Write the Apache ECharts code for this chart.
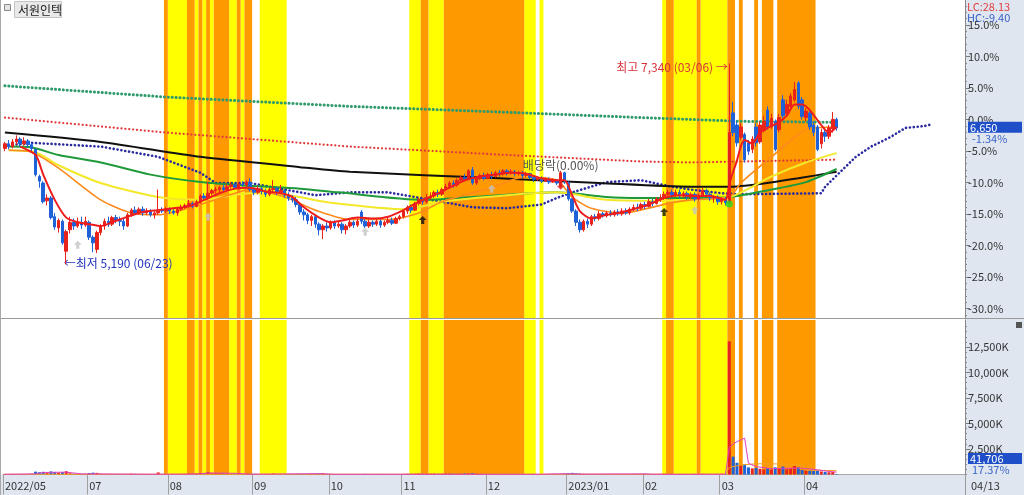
<!DOCTYPE html>
<html><head><meta charset="utf-8">
<script src="https://cdn.jsdelivr.net/npm/echarts@6/dist/echarts.min.js"></script>
<style>html,body{margin:0;padding:0;background:#fff}#c{width:1024px;height:495px}</style>
</head><body><div id="c"></div>
<script>
const stockName = '서원인텍';
const prevClose = 6740;
const lastClose = 6650;
const lastChangeText = '-1.34%';
const lastVolumeText = '41,706';
const lastVolumeRatioText = '17.37%';
const lowLabel = '←최저 5,190 (06/23)';
const highLabel = '최고 7,340 (03/06) →';
const dividendLabel = '배당락(0.00%)';
const lcText = 'LC:28.13';
const hcText = 'HC:-9.40';
const lastDateText = '04/13';
const firstDay = '2022-05-30';
const lastDay = '2023-04-13';
const marketHolidays = ['2022-06-01','2022-06-06','2022-08-15','2022-09-09','2022-09-12','2022-10-03','2022-10-10','2022-12-30','2023-01-23','2023-01-24','2023-03-01'];
const futureSlots = 33;

// [open, close, low, high] per trading day
const candles = [
 [6430,6480,6400,6500],[6480,6450,6420,6520],[6450,6500,6430,6530],[6500,6530,6470,6570],[6530,6480,6450,6550],
 [6480,6510,6460,6550],[6510,6470,6440,6530],[6470,6430,6400,6490],[6420,6150,6130,6430],[6130,6080,6010,6150],
 [6060,5860,5840,6080],[5870,5900,5820,5940],[5900,5690,5670,5920],[5700,5590,5560,5740],[5580,5660,5530,5680],
 [5650,5420,5400,5670],[5330,5540,5190,5560],[5560,5640,5520,5700],[5640,5600,5560,5680],[5600,5640,5580,5690],
 [5640,5610,5570,5700],[5610,5650,5590,5700],[5640,5480,5450,5660],[5480,5420,5320,5500],[5350,5530,5310,5550],
 [5530,5600,5500,5620],[5600,5650,5560,5680],[5650,5620,5590,5700],[5620,5690,5600,5710],[5690,5660,5630,5720],
 [5660,5650,5600,5700],[5650,5600,5560,5680],[5600,5720,5590,5740],[5720,5770,5700,5790],[5770,5740,5720,5810],
 [5740,5780,5720,5800],[5780,5740,5710,5810],[5740,5760,5720,5790],[5760,5720,5700,5780],[5720,5740,5680,5760],
 [5740,5770,5720,5990],[5770,5760,5740,5800],[5760,5780,5740,5800],[5780,5760,5730,5800],[5760,5740,5720,5780],
 [5740,5780,5710,5800],[5780,5800,5760,5830],[5800,5820,5780,5840],[5820,5840,5800,5880],[5840,5810,5790,5860],
 [5810,5860,5800,5880],[5860,5920,5840,5940],[5920,5900,5870,5950],[5900,5950,5880,6070],[5950,5980,5930,6000],
 [5980,5990,5950,6020],[5990,6010,5960,6030],[6010,5990,5970,6040],[5990,6020,5970,6050],[6020,6040,6000,6070],
 [6040,6010,5990,6060],[6010,6050,5990,6070],[6050,6040,6010,6080],[6040,6070,6020,6090],[6070,5990,5970,6110],
 [5990,5960,5930,6010],[5960,6000,5940,6030],[6000,5970,5940,6020],[5970,5940,5910,6000],[5940,5990,5920,6010],
 [5990,6000,5960,6090],[6000,5960,5930,6020],[5960,5980,5940,6040],[5980,5930,5900,6000],[5930,5900,5870,5960],
 [5900,5880,5850,5930],[5880,5830,5800,5910],[5830,5750,5720,5850],[5750,5720,5660,5780],[5720,5660,5620,5740],
 [5660,5700,5600,5720],[5700,5620,5580,5720],[5620,5560,5500,5640],[5560,5600,5460,5620],[5600,5580,5540,5640],
 [5580,5640,5560,5660],[5640,5600,5570,5660],[5600,5620,5580,5650],[5620,5560,5520,5640],[5560,5600,5510,5620],
 [5600,5640,5580,5670],[5640,5610,5580,5660],[5610,5650,5590,5680],[5750,5650,5620,5770],[5650,5600,5580,5680],
 [5600,5640,5580,5670],[5640,5620,5590,5660],[5620,5650,5600,5680],[5650,5610,5580,5670],[5610,5640,5590,5660],
 [5640,5660,5620,5690],[5660,5630,5610,5690],[5630,5680,5620,5700],[5680,5700,5660,5720],[5700,5760,5680,5770],
 [5760,5800,5730,5820],[5800,5770,5740,5830],[5770,5840,5760,5860],[5840,5880,5820,5900],[5880,5860,5830,5900],
 [5860,5900,5840,5940],[5900,5920,5880,5960],[5920,5960,5900,5980],[5960,5940,5910,5990],[5940,5990,5920,6010],
 [6000,6020,5980,6050],[6020,6060,6000,6080],[6060,6040,6010,6090],[6040,6090,6020,6110],[6090,6120,6070,6140],
 [6120,6100,6080,6160],[6100,6190,6090,6210],[6200,6060,6040,6230],[6060,6110,6040,6130],[6110,6140,6090,6160],
 [6140,6110,6090,6170],[6110,6150,6100,6170],[6150,6130,6100,6180],[6130,6170,6120,6190],[6170,6160,6130,6200],
 [6160,6190,6140,6210],[6190,6170,6140,6210],[6170,6180,6150,6210],[6180,6160,6130,6200],[6160,6170,6140,6190],
 [6170,6140,6110,6190],[6140,6160,6120,6180],[6160,6120,6100,6170],[6120,6100,6070,6140],[6100,6110,6080,6130],
 [6110,6080,6060,6130],[6080,6100,6070,6120],[6100,6070,6050,6120],[6070,6090,6060,6110],[6090,6060,6040,6100],
 [6020,6170,6000,6190],[6170,6080,6050,6180],[6060,5890,5870,6080],[5890,5760,5740,5900],[5760,5640,5600,5780],
 [5640,5560,5530,5670],[5560,5650,5540,5670],[5650,5620,5580,5680],[5620,5700,5600,5720],[5700,5680,5650,5730],
 [5680,5730,5660,5760],[5730,5710,5690,5750],[5710,5740,5690,5760],[5740,5720,5700,5770],[5720,5750,5700,5770],
 [5750,5730,5710,5780],[5730,5760,5710,5790],[5760,5740,5720,5790],[5740,5780,5720,5800],[5780,5800,5760,5830],
 [5800,5790,5760,5840],[5790,5830,5770,5850],[5830,5810,5780,5860],[5810,5860,5800,5890],[5860,5840,5810,5890],
 [5840,5890,5830,5910],[5890,5900,5860,5940],[5900,5940,5880,5970],[5940,5960,5910,5990],[5960,5930,5900,5990],
 [5930,5960,5910,5990],[5960,5920,5890,5990],[5920,5950,5900,5970],[5950,5910,5880,5970],[5910,5940,5890,5960],
 [5940,5890,5860,5960],[5890,5930,5870,5950],[5930,5980,5920,6010],[5980,5940,5910,6000],[5940,5900,5870,5960],
 [5900,5910,5850,5930],[5910,5860,5830,5930],[5860,5890,5830,5910],[5890,5850,5820,5910],[5850,6600,5840,7340],
 [6810,6600,6560,6930],[6680,6490,6450,6720],[6550,6660,6520,6700],[6580,6310,6280,6600],[6490,6400,6360,6520],
 [6420,6530,6380,6560],[6660,6490,6450,6700],[6500,6680,6480,6720],[6620,6720,6600,6780],[6840,6660,6630,6880],
 [6660,6750,6640,6800],[6720,6420,6400,6740],[6630,6760,6600,6800],[6950,6780,6750,7000],[6800,6900,6780,6950],
 [6880,6990,6860,7020],[6950,7060,6930,7140],[7130,6880,6850,7150],[6950,6770,6740,6980],[6760,6830,6720,6860],
 [6810,6660,6630,6850],[6680,6600,6560,6720],[6660,6420,6400,6680],[6480,6600,6430,6640],[6600,6560,6500,6650],
 [6560,6650,6530,6680],[6640,6740,6600,6820],[6740,6650,6620,6760]
];

// volume in thousands of shares
const volumeK = [
 60,45,55,50,40,45,50,70,
 280,220,260,150,300,250,180,230,320,
 120,80,70,60,60,
 150,180,160,
 70,60,50,55,50,45,40,60,80,60,50,45,40,40,50,
 200,
 60,55,50,45,50,60,70,90,80,
 110,150,130,220,160,140,120,110,100,90,80,
 70,60,80,70,60,50,45,50,45,90,50,45,50,45,40,50,70,60,55,80,
 90,110,130,70,60,50,45,40,50,45,
 40,45,40,60,45,40,35,40,45,40,50,45,40,
 60,80,70,90,110,80,70,90,100,80,90,110,100,90,80,90,110,130,
 150,90,70,60,60,55,50,50,45,50,40,45,40,40,45,50,60,45,40,40,45,50,45,40,90,
 140,160,120,100,
 60,50,45,40,40,45,40,40,35,40,45,40,45,50,55,60,70,55,50,60,
 70,80,60,55,50,55,50,45,50,60,50,70,60,50,55,60,70,60,
 13050,1750,1150,900,1000,700,600,650,560,500,620,480,700,550,780,520,600,830,700,450,400,420,350,380,300,260,220,240,41.7
];

// moving-average lines: [day index, price]
const maRed = [[4,6450],[8,6360],[10,6150],[13,5880],[16,5690],[19,5640],[22,5620],[25,5600],[28,5640],[32,5700],[36,5750],[40,5770],[44,5790],[48,5810],[52,5880],[56,5950],[60,6000],[64,6010],[68,5970],[72,5950],[75,5910],[78,5800],[82,5690],[85,5640],[88,5660],[92,5690],[96,5680],[100,5700],[104,5770],[108,5860],[112,5930],[116,6010],[120,6090],[124,6130],[128,6150],[132,6170],[136,6160],[140,6110],[144,6090],[146,6090],[148,5930],[150,5760],[153,5680],[156,5710],[160,5740],[164,5780],[168,5830],[172,5900],[176,5930],[180,5920],[184,5920],[188,5880],[189,6050],[190,6180],[191,6300],[192,6450],[193,6520],[195,6480],[197,6600],[199,6650],[202,6710],[204,6780],[206,6900],[208,6900],[210,6840],[213,6680],[215,6600],[217,6660]];
const maOrange = [[1,6410],[7,6390],[14,6220],[25,5880],[33,5740],[40,5720],[51,5830],[60,5950],[64,5990],[73,5910],[81,5770],[90,5670],[100,5670],[108,5740],[114,5860],[127,6010],[135,6120],[144,6090],[148,5910],[153,5790],[161,5740],[174,5850],[179,5880],[189,5910],[192,6060],[200,6340],[209,6630],[217,6660]];
const maYellow = [[1,6410],[8,6390],[14,6250],[25,6060],[40,5910],[51,5880],[64,5950],[74,5930],[85,5850],[105,5780],[114,5860],[131,5930],[144,5960],[157,5880],[170,5870],[189,5910],[200,6130],[209,6280],[217,6380]];
const maGreen = [[1,6450],[7,6440],[14,6360],[25,6280],[38,6150],[51,6070],[64,6030],[77,6000],[87,5960],[109,5880],[122,5910],[144,5960],[157,5910],[166,5900],[181,5900],[189,5910],[200,5990],[209,6070],[217,6210]];
const maBlack = [[0,6600],[25,6500],[51,6340],[77,6230],[90,6180],[129,6110],[155,6060],[179,6020],[189,6020],[197,6050],[207,6110],[217,6180]];
const dotGreen = [[0,7100],[42,6980],[90,6880],[129,6820],[166,6760],[192,6720],[217,6710]];
const dotRed = [[0,6760],[42,6600],[90,6450],[131,6360],[166,6290],[179,6280],[217,6310]];
const dotBlue = [[0,6460],[7,6490],[25,6450],[40,6340],[51,6170],[55,6060],[64,6060],[73,5990],[81,5930],[90,5960],[100,5960],[114,5860],[122,5800],[131,5790],[140,5830],[144,5900],[148,5960],[157,6070],[166,6090],[174,6020],[179,5990],[187,5950],[192,5940],[213,5950],[214,6020],[218,6180],[222,6340],[226,6450],[231,6550],[235,6650],[240,6670],[242,6690]];
const volMaPink = [[0,20],[8,60],[10,200],[16,230],[20,60],[40,25],[50,40],[53,150],[60,120],[64,30],[82,80],[86,20],[140,25],[143,60],[146,70],[150,40],[167,60],[170,20],[188,30],[189,2660],[190,3000],[191,3220],[192,3380],[193,3570],[194,1100],[196,780],[200,560],[204,610],[208,620],[212,460],[215,300],[217,230]];
const volMaOrange = [[0,20],[188,25],[189,700],[192,930],[196,1050],[200,1050],[205,1000],[208,980],[209,420],[217,380]];

// background signal bands: [first day, last day]
const yellowBands = [[43,47],[50,50],[52,52],[54,54],[59,60],[62,62],[67,73],[106,108],[111,114],[136,138],[140,140],[172,172],[175,180],[182,188]];
const orangeBands = [[42,42],[48,49],[51,51],[53,53],[55,58],[61,61],[63,64],[109,110],[115,135],[173,174],[181,181],[189,190],[192,192],[196,196],[198,200],[202,211]];

// signal markers: [day index, price]
const signalGray = [[19,5400],[53,5700],[94,5540],[127,6000],[180,5770]];
const signalBlack = [[109,5665],[172,5750]];
const signalGreen = [[189,5836]];
const signalRed = [[145,6030]];

const pctTicks = [-30,-25,-20,-15,-10,-5,0,5,10,15];
const volTicksK = [2500,5000,7500,10000,12500];
const minLabelGap = 10; // month labels closer than this many days to the previous one are not shown

// ---------- build ----------
const FONT = "'Noto Sans CJK KR', 'Noto Sans', sans-serif";
const cats = [];
(function(){
  const hol = new Set(marketHolidays);
  let d = new Date(firstDay + 'T00:00:00Z');
  const end = new Date(lastDay + 'T00:00:00Z');
  while (d <= end) {
    const wd = d.getUTCDay(); const s = d.toISOString().slice(0,10);
    if (wd !== 0 && wd !== 6 && !hol.has(s)) cats.push(s);
    d = new Date(d.getTime() + 86400000);
  }
  for (let i = 1; i <= futureSlots; i++) cats.push('+' + i);
})();
const isMonthStart = (i) => {
  if (i === 0) return true;
  if (i < minLabelGap) return false;
  const a = cats[i], b = cats[i-1];
  if (!a || a[0] === '+') return false;
  return a.slice(5,7) !== b.slice(5,7);
};
const monthLabel = (v, i) => {
  if (i === 0) return v.slice(0,4) + '/' + v.slice(5,7);
  if (v.slice(5,7) === '01') return v.slice(0,4) + '/01';
  return v.slice(5,7);
};

const bandData = yellowBands.map(b => [b[0], b[1], 1]).concat(orangeBands.map(b => [b[0], b[1], 2]));
function bandSeries(xi, yi) {
  return {
    type: 'custom', xAxisIndex: xi, yAxisIndex: yi, silent: true, z: 1, clip: false,
    data: bandData, encode: { x: [0, 1], y: 2 },
    renderItem(params, api) {
      const w = api.size([1, 0])[0];
      const x0 = api.coord([api.value(0), 1])[0] - w / 2;
      const x1 = api.coord([api.value(1), 1])[0] + w / 2;
      const cs = params.coordSys;
      return { type: 'rect', shape: { x: x0, y: cs.y, width: x1 - x0, height: cs.height },
        style: { fill: api.value(2) === 1 ? '#ffff00' : '#ff9900' } };
    }
  };
}
function lineS(data, color, width, dash, z) {
  return { type: 'line', xAxisIndex: 0, yAxisIndex: 0, data, symbol: 'none', z: z || 5, silent: true,
    smooth: dash ? false : 0.25,
    lineStyle: dash ? { color, width, type: dash, cap: 'round' } : { color, width } };
}
const arrowPath = 'path://M5 0 L10 5 L7 5 L7 10 L3 10 L3 5 L0 5 Z';
function signalS(data, color, symbol, rotate, size) {
  return { type: 'scatter', xAxisIndex: 0, yAxisIndex: 0, data, symbol, symbolRotate: rotate || 0,
    symbolSize: size || 8, z: 8, silent: true, itemStyle: { color } };
}
const pctFmt = (v) => { let p = Math.round((v / prevClose - 1) * 1000) / 10; if (p === 0) p = 0; return p.toFixed(1) + '%'; };

const priceMin = 4616, priceMax = 8018;
const volMax = 15150;
const axisFont = { fontFamily: FONT, fontSize: 11, color: '#333' };

const option = {
  animation: false,
  backgroundColor: '#ffffff',
  grid: [
    { left: 3, right: 59, top: 0, height: 318, outerBoundsMode: 'none' },
    { left: 3, right: 59, top: 320, height: 154.5, outerBoundsMode: 'none' }
  ],
  xAxis: [
    { type: 'category', gridIndex: 0, data: cats, boundaryGap: true, axisLine: { show: false }, axisTick: { show: false }, axisLabel: { show: false } },
    { type: 'category', gridIndex: 1, data: cats, boundaryGap: true,
      axisLine: { show: true, lineStyle: { color: '#a8a8a8' } },
      axisTick: { show: true, interval: (i) => isMonthStart(i), length: 20, lineStyle: { color: '#a0a0a0' } },
      axisLabel: Object.assign({ show: true, interval: (i) => isMonthStart(i), formatter: monthLabel, align: 'left', margin: 6, hideOverlap: false }, axisFont) }
  ],
  yAxis: [
    { type: 'value', gridIndex: 0, position: 'right', min: priceMin, max: priceMax, splitLine: { show: false },
      axisLine: { show: true, lineStyle: { color: '#8a8a8a' } },
      axisTick: { show: true, length: 5, customValues: pctTicks.map(p => prevClose * (1 + p / 100)), lineStyle: { color: '#777' } },
      axisLabel: Object.assign({ show: true, margin: 3, customValues: pctTicks.map(p => prevClose * (1 + p / 100)), formatter: pctFmt }, axisFont) },
    { type: 'value', gridIndex: 0, position: 'right', min: priceMin, max: priceMax, splitLine: { show: false },
      axisLine: { show: false }, axisLabel: { show: false },
      axisTick: { show: true, length: 2, customValues: Array.from({ length: 50 }, (_, k) => prevClose * (1 + (k - 31) / 100)), lineStyle: { color: '#888' } } },
    { type: 'value', gridIndex: 0, min: 0, max: 3, show: false },
    { type: 'value', gridIndex: 1, position: 'right', min: 0, max: volMax, splitLine: { show: false },
      axisLine: { show: true, lineStyle: { color: '#8a8a8a' } },
      axisTick: { show: true, length: 5, customValues: volTicksK, lineStyle: { color: '#777' } },
      axisLabel: Object.assign({ show: true, margin: 3, customValues: volTicksK, formatter: (v) => v.toLocaleString('en-US') + 'K' }, axisFont) },
    { type: 'value', gridIndex: 1, position: 'right', min: 0, max: volMax, splitLine: { show: false },
      axisLine: { show: false }, axisLabel: { show: false },
      axisTick: { show: true, length: 2, customValues: Array.from({ length: 30 }, (_, k) => k * 500), lineStyle: { color: '#888' } } },
    { type: 'value', gridIndex: 1, min: 0, max: 3, show: false }
  ],
  series: [
    bandSeries(0, 2),
    bandSeries(1, 5),
    lineS(dotGreen, '#2f9a6a', 3, [0.1, 3.8], 4),
    lineS(dotRed, '#e03a3a', 2.2, [0.1, 3.8], 4),
    lineS(dotBlue, '#2a2aa0', 2.6, [0.1, 3.8], 4),
    lineS(maBlack, '#111111', 2, null, 4),
    lineS(maGreen, '#1f9a3a', 2, null, 4),
    lineS(maYellow, '#f4e82a', 2, null, 4),
    lineS(maOrange, '#ff8a1c', 1.6, null, 5),
    {
      type: 'candlestick', xAxisIndex: 0, yAxisIndex: 0, data: candles, barWidth: 3, z: 6, silent: true,
      itemStyle: { color: '#e8231c', color0: '#1f62d8', borderColor: '#e8231c', borderColor0: '#1f62d8', borderWidth: 1 },
      markPoint: {
        symbol: 'circle', symbolSize: 1, itemStyle: { color: 'rgba(0,0,0,0)' }, silent: true,
        data: [
          { coord: [189, 7340], label: { show: true, formatter: highLabel, position: 'left', distance: 1, offset: [0, 4], color: '#d8323c', fontFamily: FONT, fontSize: 12 } },
          { coord: [16, 5190], label: { show: true, formatter: lowLabel, position: 'right', distance: 0, offset: [-3, -1], color: '#2233bb', fontFamily: FONT, fontSize: 12 } },
          { coord: [145, 6253], label: { show: true, formatter: dividendLabel, position: 'inside', color: '#555', fontFamily: FONT, fontSize: 12 } }
        ]
      }
    },
    lineS(maRed, '#ee1c1c', 2, null, 7),
    signalS(signalGray, '#c4c4c4', arrowPath, 0, 8),
    signalS(signalBlack, '#111111', arrowPath, 0, 8),
    signalS(signalGreen, '#22dd22', 'circle', 0, 7),
    signalS(signalRed, '#e02020', arrowPath, 180, 8),
    {
      type: 'bar', xAxisIndex: 1, yAxisIndex: 3, barWidth: 3, z: 5, silent: true,
      data: volumeK.map((v, i) => ({ value: v, itemStyle: { color: candles[i][1] >= candles[i][0] ? '#e8231c' : '#1f62d8' } }))
    },
    { type: 'line', xAxisIndex: 1, yAxisIndex: 3, data: volMaOrange, symbol: 'none', z: 6, silent: true, lineStyle: { color: '#f0a020', width: 1 } },
    { type: 'line', xAxisIndex: 1, yAxisIndex: 3, data: volMaPink, symbol: 'none', z: 6, silent: true, lineStyle: { color: '#e040c0', width: 1 } }
  ]
};

const chart = echarts.init(document.getElementById('c'), null, { renderer: 'canvas' });
chart.setOption(option);

const py = chart.convertToPixel({ yAxisIndex: 0 }, lastClose);
const textStyle = (t, x, y, fill, extra) => Object.assign({ type: 'text', x, y, z: 200, style: { text: t, fill, font: '11px ' + FONT, textVerticalAlign: 'middle' } }, extra || {});
chart.setOption({
  graphic: [
    { type: 'rect', z: -10, silent: true, shape: { x: 965, y: 0, width: 59, height: 495 }, style: { fill: '#dfe6f0' } },
    { type: 'rect', z: -10, silent: true, shape: { x: 0, y: 475, width: 1024, height: 20 }, style: { fill: '#dfe6f0' } },
    { type: 'line', z: 50, silent: true, shape: { x1: 0, y1: 318.5, x2: 1024, y2: 318.5 }, style: { stroke: '#9a9a9a', lineWidth: 1 } },
    { type: 'line', z: 50, silent: true, shape: { x1: 965.5, y1: 474, x2: 965.5, y2: 495 }, style: { stroke: '#9a9a9a', lineWidth: 1 } },
    { type: 'line', z: 50, silent: true, shape: { x1: 0.5, y1: 0, x2: 0.5, y2: 495 }, style: { stroke: '#a8a8a8', lineWidth: 1 } },
    { type: 'rect', z: 50, silent: true, shape: { x: 1016, y: 322, width: 6, height: 6 }, style: { fill: '#555' } },
    { type: 'rect', z: 60, silent: true, shape: { x: 4.5, y: 4.5, width: 6, height: 6 }, style: { fill: '#e4e4e4', stroke: '#888', lineWidth: 1 } },
    { type: 'rect', z: 60, silent: true, shape: { x: 14.5, y: 1.5, width: 47, height: 16 }, style: { fill: '#e9e9e9', stroke: '#c4c4c4', lineWidth: 1 } },
    { type: 'text', z: 61, silent: true, x: 18, y: 10, style: { text: stockName, fill: '#222', font: '12px ' + FONT, textVerticalAlign: 'middle' } },
    textStyle(lcText, 967, 7, '#e04040'),
    textStyle(hcText, 967, 18, '#3a60c8'),
    { type: 'rect', z: 199, silent: true, shape: { x: 968, y: py - 6, width: 54, height: 11 }, style: { fill: '#1f4fc8' } },
    textStyle(String(lastClose.toLocaleString('en-US')), 970, py - 0.5, '#ffffff'),
    textStyle(lastChangeText, 972, py + 11, '#3a64c8'),
    { type: 'rect', z: 199, silent: true, shape: { x: 968, y: 453, width: 54, height: 11 }, style: { fill: '#1f4fc8' } },
    textStyle(lastVolumeText, 970, 458.5, '#ffffff'),
    textStyle(lastVolumeRatioText, 972, 470, '#3a64c8'),
    textStyle(lastDateText, 971, 486, '#333')
  ]
});
</script></body></html>
